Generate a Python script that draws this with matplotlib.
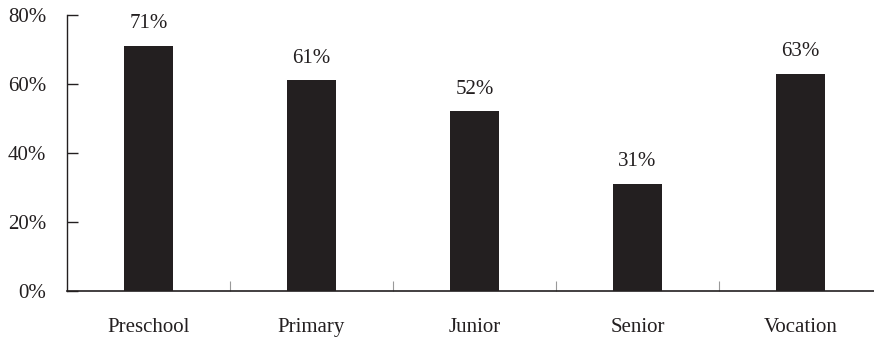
import matplotlib
matplotlib.use("Agg")
import matplotlib.pyplot as plt
from matplotlib.ticker import FixedLocator

categories = ["Preschool", "Primary", "Junior", "Senior", "Vocation"]
values = [71, 61, 52, 31, 63]
yticks = [0, 20, 40, 60, 80]
ytick_labels = ["0%", "20%", "40%", "60%", "80%"]

plt.rcParams['font.family'] = ['Liberation Serif', 'DejaVu Serif']

fig = plt.figure(figsize=(8.74, 3.37), dpi=100)
W, H = 874, 337
ax = fig.add_axes([67 / W, (H - 290.5) / H, 815 / W, 275.5 / H])

x = list(range(len(categories)))
ax.bar(x, values, width=0.295, color="#231f20")

for xi, v in zip(x, values):
    ax.text(xi, v + 6.4, f"{v}%", ha="center", va="center", fontsize=15, color="#231f20")

ax.set_xlim(-0.5, len(categories) - 0.5)
ax.set_ylim(0, 80)
ax.set_yticks(yticks)
ax.set_yticklabels(ytick_labels, fontsize=15, color="#231f20")
ax.set_xticks(x)
ax.set_xticklabels(categories, fontsize=15, color="#231f20")
ax.xaxis.set_minor_locator(FixedLocator([i + 0.5 for i in range(len(categories) - 1)]))

ax.spines['top'].set_visible(False)
ax.spines['right'].set_visible(False)
ax.spines['left'].set_color("#231f20")
ax.spines['bottom'].set_color("#231f20")
ax.spines['left'].set_linewidth(1.0)
ax.spines['bottom'].set_linewidth(1.2)

ax.tick_params(axis='y', direction='in', length=8, width=1.0, color="#231f20", pad=15)
ax.tick_params(axis='x', which='major', length=0, pad=20)
ax.tick_params(axis='x', which='minor', direction='in', length=7, width=0.8, color="#999999")

fig.savefig("out.png", dpi=100)
